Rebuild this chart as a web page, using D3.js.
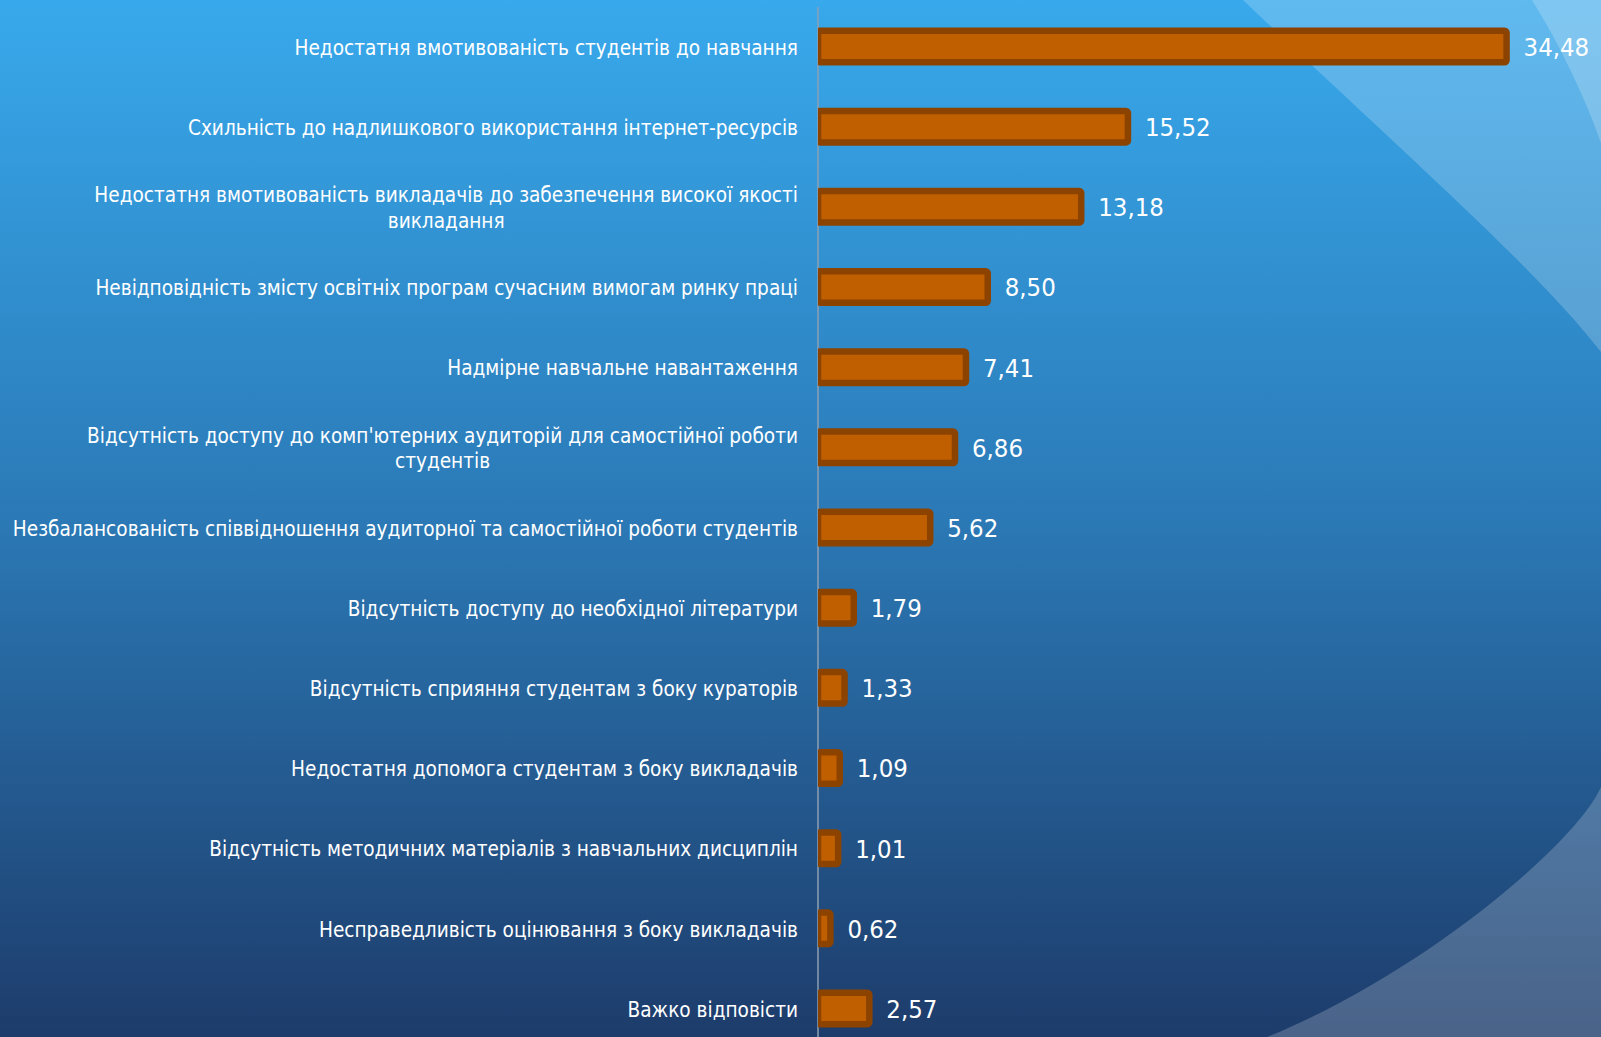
<!DOCTYPE html>
<html>
<head>
<meta charset="utf-8">
<script src="https://cdn.jsdelivr.net/npm/d3@7"></script>
<style>
  html, body { margin: 0; padding: 0; overflow: hidden; }
  svg { display: block; }
</style>
</head>
<body>
<svg id="chart"></svg>
<script>
// categories, top to bottom ("|" = line break)
var categories = [
  "Недостатня вмотивованість студентів до навчання",
  "Схильність до надлишкового використання інтернет-ресурсів",
  "Недостатня вмотивованість викладачів до забезпечення високої якості|викладання",
  "Невідповідність змісту освітніх програм сучасним вимогам ринку праці",
  "Надмірне навчальне навантаження",
  "Відсутність доступу до комп'ютерних аудиторій для самостійної роботи|студентів",
  "Незбалансованість співвідношення аудиторної та самостійної роботи студентів",
  "Відсутність доступу до необхідної літератури",
  "Відсутність сприяння студентам з боку кураторів",
  "Недостатня допомога студентам з боку викладачів",
  "Відсутність методичних матеріалів з навчальних дисциплін",
  "Несправедливість оцінювання з боку викладачів",
  "Важко відповісти"
];
var values = [34.48, 15.52, 13.18, 8.50, 7.41, 6.86, 5.62, 1.79, 1.33, 1.09, 1.01, 0.62, 2.57];

var width = 1601, height = 1037;
var axisX = 818;
var font = "'DejaVu Sans Condensed', 'DejaVu Sans', sans-serif";

var svg = d3.select("#chart").attr("width", width).attr("height", height);
var defs = svg.append("defs");

var bg = defs.append("linearGradient").attr("id", "bg")
  .attr("x1", 0).attr("y1", 0).attr("x2", 0).attr("y2", 1);
bg.append("stop").attr("offset", "0%").attr("stop-color", "#38a9ec");
bg.append("stop").attr("offset", "50%").attr("stop-color", "#2b79b6");
bg.append("stop").attr("offset", "100%").attr("stop-color", "#1d3c6b");

defs.append("clipPath").attr("id", "plot")
  .append("rect").attr("x", axisX).attr("y", 0)
  .attr("width", width - axisX).attr("height", height);

// background
svg.append("rect").attr("width", width).attr("height", height).attr("fill", "url(#bg)");
svg.append("path")
  .attr("d", "M1243,0 C1400,150 1530,262 1601,352 L1601,0 Z")
  .attr("fill", "#ffffff").attr("fill-opacity", 0.2);
svg.append("path")
  .attr("d", "M1532,0 C1560,45 1585,97 1601,143 L1601,0 Z")
  .attr("fill", "#ffffff").attr("fill-opacity", 0.2);
svg.append("path")
  .attr("d", "M1601,787 C1575,845 1420,975 1267,1037 L1601,1037 Z")
  .attr("fill", "#ffffff").attr("fill-opacity", 0.2);

var x = d3.scaleLinear().domain([0, 35]).range([axisX, axisX + 35 * 19.97]);
var y = d3.scaleBand().domain(d3.range(categories.length))
  .range([6.4, 6.4 + categories.length * 80.17])
  .paddingInner(0.607).paddingOuter(0.3035);

// axis line
svg.append("line")
  .attr("x1", axisX).attr("x2", axisX).attr("y1", 7).attr("y2", height)
  .attr("stroke", "#8d9fb3").attr("stroke-width", 1.5);

// bars
svg.append("g").attr("clip-path", "url(#plot)")
  .selectAll("rect").data(values).enter().append("rect")
  .attr("x", x(0))
  .attr("y", function(d, i) { return y(i); })
  .attr("width", function(d) { return x(d) - x(0); })
  .attr("height", y.bandwidth())
  .attr("rx", 2)
  .attr("fill", "#c05f00")
  .attr("stroke", "#8c4300")
  .attr("stroke-width", 6.5);

// value labels
svg.append("g").selectAll("text").data(values).enter().append("text")
  .attr("x", function(d) { return x(d) + 17; })
  .attr("y", function(d, i) { return y(i) + y.bandwidth() / 2; })
  .attr("dy", "0.37em")
  .attr("fill", "#ffffff")
  .style("font-family", font)
  .style("font-size", "25.5px")
  .text(function(d) { return d.toFixed(2).replace(".", ","); });

// category labels
var labelRight = 798, lineH = 25.5;
var labels = svg.append("g").selectAll("g").data(categories).enter().append("g")
  .attr("transform", function(d, i) { return "translate(0," + (y(i) + y.bandwidth() / 2 + 1) + ")"; });

labels.each(function(d) {
  var g = d3.select(this);
  var lines = d.split("|");
  var txt = g.append("text")
    .attr("fill", "#ffffff")
    .style("font-family", font)
    .style("font-size", "20.6px");
  lines.forEach(function(l, k) {
    txt.append("tspan").attr("x", 0)
      .attr("y", (k - (lines.length - 1) / 2) * lineH)
      .attr("dy", "0.35em").text(l);
  });
  // widest line right-aligned, others centred on it
  var w = d3.max(txt.selectAll("tspan").nodes(), function(n) { return n.getComputedTextLength(); });
  txt.attr("text-anchor", "middle");
  txt.selectAll("tspan").attr("x", labelRight - w / 2);
});
</script>
</body>
</html>
